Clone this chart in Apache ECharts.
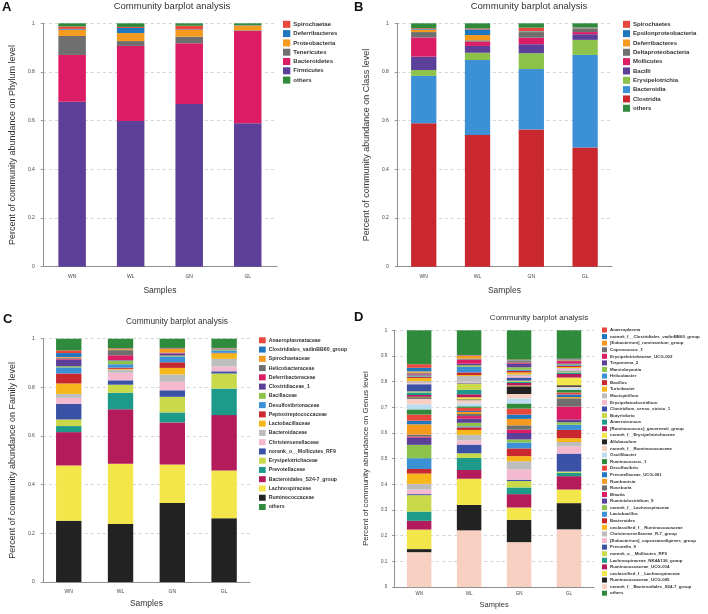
<!DOCTYPE html>
<html><head><meta charset="utf-8">
<script src="https://cdn.jsdelivr.net/npm/echarts/dist/echarts.min.js"></script>
<style>
html,body{margin:0;padding:0;background:#fff;}
#wrap{position:relative;width:708px;height:614px;overflow:hidden;}
.p{position:absolute;width:354px;height:307px;}
</style></head><body>
<div id="wrap">
<div class="p" id="pA" style="left:0;top:0"></div>
<div class="p" id="pB" style="left:354px;top:0"></div>
<div class="p" id="pC" style="left:0;top:307px"></div>
<div class="p" id="pD" style="left:354px;top:307px"></div>
</div>
<script>
// ---------- DATA ----------
const samples = ['WN', 'WL', 'GN', 'GL'];

// Panel A: Phylum level (legend order, top to bottom)
const phylumNames = ['Spirochaetae', 'Deferribacteres', 'Proteobacteria', 'Tenericutes', 'Bacteroidetes', 'Firmicutes', 'others'];
const phylumWN = [0.010, 0.003, 0.026, 0.078, 0.192, 0.678, 0.013];
const phylumWL = [0.004, 0.021, 0.033, 0.020, 0.308, 0.599, 0.015];
const phylumGN = [0.015, 0.002, 0.028, 0.027, 0.250, 0.668, 0.010];
const phylumGL = [0.001, 0.001, 0.019, 0.003, 0.379, 0.589, 0.008];

// Panel B: Class level
const classNames = ['Spirochaetes', 'Epsilonproteobacteria', 'Deferribacteres', 'Deltaproteobacteria', 'Mollicutes', 'Bacilli', 'Erysipelotrichia', 'Bacteroidia', 'Clostridia', 'others'];
const classWN = [0.003, 0.003, 0.010, 0.022, 0.079, 0.055, 0.024, 0.195, 0.589, 0.020];
const classWL = [0.004, 0.023, 0.022, 0.005, 0.018, 0.028, 0.030, 0.308, 0.541, 0.021];
const classGN = [0.014, 0.002, 0.002, 0.023, 0.027, 0.037, 0.065, 0.248, 0.564, 0.018];
const classGL = [0.001, 0.002, 0.001, 0.015, 0.009, 0.023, 0.062, 0.380, 0.490, 0.017];

// Panel C: Family level
const familyNames = ['Anaeroplasmataceae', 'Clostridiales_vadinBB60_group', 'Spirochaetaceae', 'Helicobacteraceae', 'Deferribacteraceae', 'Clostridiaceae_1', 'Bacillaceae', 'Desulfovibrionaceae', 'Peptostreptococcaceae', 'Lactobacillaceae', 'Bacteroidaceae', 'Christensenellaceae', 'norank_o__Mollicutes_RF9', 'Erysipelotrichaceae', 'Prevotellaceae', 'Bacteroidales_S24-7_group', 'Lachnospiraceae', 'Ruminococcaceae', 'others'];
const familyWN = [0.011, 0.016, 0.003, 0.004, 0.004, 0.027, 0.005, 0.025, 0.041, 0.043, 0.016, 0.025, 0.064, 0.027, 0.025, 0.137, 0.227, 0.252, 0.048];
const familyWL = [0.002, 0.002, 0.004, 0.021, 0.020, 0.002, 0.015, 0.014, 0.005, 0.003, 0.013, 0.031, 0.018, 0.033, 0.068, 0.224, 0.248, 0.238, 0.039];
const familyGN = [0.002, 0.002, 0.015, 0.002, 0.002, 0.008, 0.004, 0.024, 0.023, 0.027, 0.030, 0.035, 0.027, 0.064, 0.041, 0.173, 0.158, 0.325, 0.038];
const familyGL = [0.001, 0.001, 0.001, 0.001, 0.001, 0.001, 0.004, 0.010, 0.002, 0.023, 0.031, 0.020, 0.009, 0.062, 0.109, 0.228, 0.196, 0.262, 0.038];

// Panel D: Genus level
const genusNames = ['Anaeroplasma', 'norank_f__Clostridiales_vadinBB60_group', '[Eubacterium]_ruminantium_group', 'Coprococcus_1', 'Erysipelotrichaceae_UCG-003', 'Treponema_2', 'Marvinbryantia', 'Helicobacter', 'Bacillus', 'Turicibacter', 'Mucispirillum', 'Erysipelatoclostridium', 'Clostridium_sensu_stricto_1', 'Butyrivibrio', 'Anaerotruncus', '[Ruminococcus]_gauvreauii_group', 'norank_f__Erysipelotrichaceae', 'Allobaculum', 'norank_f__Ruminococcaceae', 'Oscillibacter', 'Ruminococcus_1', 'Desulfovibrio', 'Prevotellaceae_UCG-001', 'Romboutsia', 'Roseburia', 'Blautia', 'Ruminiclostridium_9', 'norank_f__Lachnospiraceae', 'Lactobacillus', 'Bacteroides', 'unclassified_f__Ruminococcaceae', 'Christensenellaceae_R-7_group', '[Eubacterium]_coprostanoligenes_group', 'Prevotella_9', 'norank_o__Mollicutes_RF9', 'Lachnospiraceae_NK4A136_group', 'Ruminococcaceae_UCG-014', 'unclassified_f__Lachnospiraceae', 'Ruminococcaceae_UCG-005', 'norank_f__Bacteroidales_S24-7_group', 'others'];
const genusWN = [0.014, 0.014, 0.005, 0.004, 0.003, 0.004, 0.003, 0.003, 0.004, 0.012, 0.008, 0.004, 0.028, 0.004, 0.010, 0.007, 0.002, 0.005, 0.022, 0.020, 0.020, 0.024, 0.014, 0.040, 0.008, 0.004, 0.028, 0.052, 0.042, 0.018, 0.040, 0.022, 0.018, 0.004, 0.064, 0.036, 0.034, 0.076, 0.012, 0.136, 0.132];
const genusWL = [0.002, 0.002, 0.010, 0.004, 0.016, 0.006, 0.006, 0.022, 0.010, 0.004, 0.022, 0.004, 0.003, 0.025, 0.017, 0.012, 0.008, 0.003, 0.012, 0.012, 0.006, 0.012, 0.004, 0.008, 0.008, 0.010, 0.016, 0.014, 0.004, 0.010, 0.019, 0.022, 0.016, 0.034, 0.018, 0.047, 0.034, 0.102, 0.099, 0.221, 0.096];
const genusGN = [0.002, 0.002, 0.002, 0.006, 0.004, 0.014, 0.010, 0.004, 0.006, 0.008, 0.006, 0.006, 0.012, 0.004, 0.005, 0.010, 0.003, 0.030, 0.017, 0.020, 0.020, 0.023, 0.017, 0.025, 0.017, 0.013, 0.025, 0.012, 0.023, 0.030, 0.020, 0.032, 0.040, 0.005, 0.025, 0.026, 0.052, 0.048, 0.087, 0.175, 0.114];
const genusGL = [0.002, 0.002, 0.002, 0.003, 0.009, 0.003, 0.003, 0.003, 0.005, 0.004, 0.003, 0.007, 0.003, 0.004, 0.006, 0.014, 0.030, 0.006, 0.005, 0.007, 0.010, 0.008, 0.010, 0.005, 0.032, 0.051, 0.010, 0.010, 0.020, 0.032, 0.015, 0.017, 0.028, 0.070, 0.005, 0.013, 0.052, 0.053, 0.102, 0.225, 0.111];

// ---------- STYLE ----------
const palette = ['#e8473b', '#1f77c0', '#f49b1f', '#6f6f6f', '#dc1c65', '#5b3f98', '#8dc24b', '#3c90d5', '#c8282e', '#f7b71c', '#bdbdbd', '#f4b8cf', '#3a51a5', '#c9d949', '#1e9a8a', '#b41b5a', '#f3e64a', '#222222', '#f8d0c2', '#bcdcef', '#2f8a3b'];
const othersColor = '#2f8a3b';
function colorsFor(names) {
  return names.map((n, i) => i === names.length - 1 ? othersColor : palette[i % palette.length]);
}
const FONT = '"Liberation Sans", Arial, Helvetica, sans-serif';

function build(id, c) {
  const chart = echarts.init(document.getElementById(id), null, { renderer: 'canvas' });
  const n = c.names.length;
  const colors = colorsFor(c.names);
  const order = [];
  for (let i = n - 2; i >= 0; i--) order.push(i);
  order.push(n - 1);
  const series = order.map(i => ({
    name: c.names[i], type: 'bar', stack: 'all', barWidth: c.barWidth,
    itemStyle: { color: colors[i] }, emphasis: { disabled: true },
    data: c.values.map(arr => arr[i])
  }));
  chart.setOption({
    animation: false,
    textStyle: { fontFamily: FONT },
    grid: { left: c.grid[0], top: c.grid[1], width: c.grid[2], height: c.grid[3], containLabel: false },
    xAxis: {
      type: 'category', data: samples,
      axisLine: { lineStyle: { color: '#8f8f8f', width: 1 } },
      axisTick: { length: 4, lineStyle: { color: '#8f8f8f' } },
      axisLabel: { fontSize: c.tickFs, color: '#444', margin: c.xLabelMargin },
      name: 'Samples', nameLocation: 'middle', nameGap: c.xNameGap,
      nameTextStyle: { fontSize: c.xNameFs, color: '#333' }
    },
    yAxis: {
      type: 'value', min: 0, max: 1, interval: c.yInterval,
      axisLine: { show: true, lineStyle: { color: '#8f8f8f', width: 1 } },
      axisTick: { show: true, length: 2, lineStyle: { color: '#8f8f8f' } },
      axisLabel: { fontSize: c.tickFs, color: '#444', margin: c.yLabelMargin },
      splitLine: { show: true, lineStyle: { color: '#d4d4d4', type: [3, 3], width: 1 } },
      name: c.yName, nameLocation: 'middle', nameRotate: 90, nameGap: c.yNameGap,
      nameTextStyle: { fontSize: c.yNameFs, color: '#333' }
    },
    legend: {
      orient: 'vertical', left: c.legend[0], top: c.legend[1], padding: 0,
      itemWidth: c.legend[2], itemHeight: c.legend[3], itemGap: c.legend[4],
      icon: 'rect', selectedMode: false, data: c.names,
      textStyle: { fontSize: c.legend[5], lineHeight: c.legend[3], fontWeight: 'bold', color: '#333', padding: [0, 0, 0, -2] }
    },
    graphic: [
      { type: 'text', left: c.letter[1], top: c.letter[2],
        style: { text: c.letter[0], font: 'bold 13px ' + FONT, fill: '#111' } },
      { type: 'text', x: c.title[0], y: c.title[1],
        style: { text: 'Community barplot analysis', font: c.title[2] + 'px ' + FONT, fill: '#333', textAlign: 'center', textVerticalAlign: 'middle' } }
    ],
    series
  });
}

build('pA', {
  names: phylumNames, values: [phylumWN, phylumWL, phylumGN, phylumGL],
  grid: [28, 23.3, 249, 243.4], barWidth: '47%', yInterval: 0.2,
  yName: 'Percent of community abundance on Phylum level', yNameGap: 21, yNameFs: 9,
  tickFs: 5, xLabelMargin: 7, yLabelMargin: 8, xNameGap: 19, xNameFs: 8.5,
  legend: [283, 20.8, 7.3, 7, 2.3, 6],
  letter: ['A', 2, 1], title: [172, 6, 9.5]
});
build('pB', {
  names: classNames, values: [classWN, classWL, classGN, classGL],
  grid: [30, 23.3, 228, 243.4], barWidth: '47%', yInterval: 0.2,
  yName: 'Percent of community abundance on Class level', yNameGap: 21, yNameFs: 9,
  tickFs: 5, xLabelMargin: 7, yLabelMargin: 8, xNameGap: 19, xNameFs: 8.5,
  legend: [269, 20.8, 7, 7, 2.33, 6],
  letter: ['B', 0, 1], title: [175, 6, 9.5]
});
build('pC', {
  names: familyNames, values: [familyWN, familyWL, familyGN, familyGL],
  grid: [30, 31.7, 220, 243.3], barWidth: '49%', yInterval: 0.2,
  yName: 'Percent of community abundance on Family level', yNameGap: 19, yNameFs: 9,
  tickFs: 5, xLabelMargin: 7, yLabelMargin: 8, xNameGap: 17, xNameFs: 8.5,
  legend: [259, 30.3, 6.7, 6, 3.26, 5.2],
  letter: ['C', 3, 6], title: [177, 15, 8.3]
});
build('pD', {
  names: genusNames, values: [genusWN, genusWL, genusGN, genusGL],
  grid: [28, 23.3, 212, 262], barWidth: '49%', yInterval: 0.1,
  yName: 'Percent of community abundance on Genus level', yNameGap: 14, yNameFs: 8,
  tickFs: 4.5, xLabelMargin: 4, yLabelMargin: 7, xNameGap: 12.5, xNameFs: 7.5,
  legend: [248, 20.5, 5, 5, 1.58, 4.4],
  letter: ['D', 0, 4], title: [185, 11, 8]
});
</script>
</body></html>
